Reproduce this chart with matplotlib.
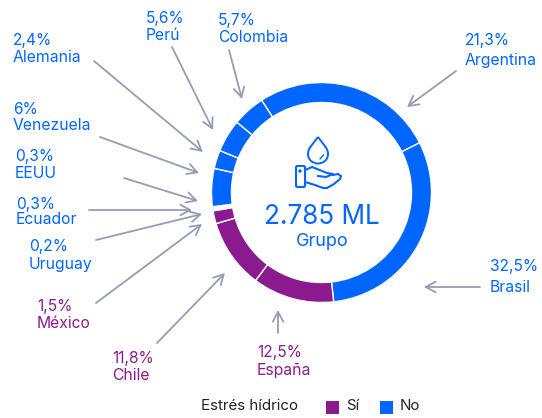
import matplotlib
matplotlib.use('Agg')
import matplotlib.pyplot as plt
from matplotlib.patches import PathPatch, FancyBboxPatch, Circle, Rectangle
from matplotlib.path import Path

# --- DATA ---
countries = ['Argentina', 'Brasil', 'España', 'Chile', 'México', 'Uruguay',
             'Ecuador', 'EEUU', 'Venezuela', 'Alemania', 'Perú', 'Colombia']
pct_labels = ['21,3%', '32,5%', '12,5%', '11,8%', '1,5%', '0,2%',
              '0,3%', '0,3%', '6%', '2,4%', '5,6%', '5,7%']
# arc sizes as drawn in the picture (they don't quite follow the printed labels)
arc_shares = [26.7, 30.7, 12.0, 10.2, 1.9, 0.2, 0.2, 0.2, 5.6, 2.7, 4.8, 4.8]
stress = ['No', 'No', 'Sí', 'Sí', 'Sí', 'No', 'No', 'No', 'No', 'No', 'No', 'No']
total_label = '2.785 ML'
total_sub = 'Grupo'
legend_title = 'Estrés hídrico'
legend_items = ['Sí', 'No']

# --- LAYOUT (pixels, y from the top) ---
W, H = 542, 418
BLUE = '#0066FF'
PURPLE = '#8A1A8E'
GREY = '#959DB3'
FONT = 'Inter'
colors = {'Sí': PURPLE, 'No': BLUE}

# left x, y of percent, y of name
label_pos = {
    'Argentina': (465, 40, 61), 'Brasil': (490, 266, 288), 'España': (257, 352, 370),
    'Chile': (112, 359, 375), 'México': (37, 307, 323), 'Uruguay': (29, 247, 264),
    'Ecuador': (16, 204, 220), 'EEUU': (15, 157, 174), 'Venezuela': (13, 109, 125),
    'Alemania': (13, 40, 58), 'Perú': (146, 18, 36), 'Colombia': (218, 20, 37),
}
# tail, head
arrow_pos = {
    'Argentina': ((456, 71), (407, 107)), 'Brasil': ((480, 287), (424, 287)),
    'España': ((278, 333), (278, 310)), 'Chile': ((157, 343), (225, 273)),
    'México': ((96, 303), (202, 224)), 'Uruguay': ((96, 240), (202, 214)),
    'Ecuador': ((89, 210), (192, 210)), 'EEUU': ((124, 178), (198, 201)),
    'Venezuela': ((100, 137), (199, 173)), 'Alemania': ((94, 61), (203, 152)),
    'Perú': ((172, 47), (213, 130)), 'Colombia': ((229, 50), (242, 99)),
}


def fy(y):
    return H - y


fig = plt.figure(figsize=(W / 100, H / 100), dpi=100)
ax = fig.add_axes([0, 0, 1, 1])

ax.pie(arc_shares, colors=[colors[s] for s in stress], startangle=123, counterclock=False,
       center=(321.5, fy(192.5)), radius=110, frame=True,
       wedgeprops={'width': 20, 'edgecolor': 'white', 'linewidth': 1.0})
ax.set_xlim(0, W)
ax.set_ylim(0, H)
ax.set_aspect('equal')
ax.axis('off')

# country labels and arrows
for name, pct, s in zip(countries, pct_labels, stress):
    x, y1, y2 = label_pos[name]
    ax.text(x, fy(y1), pct, color=colors[s], fontsize=11.2, family=FONT, va='center', ha='left')
    ax.text(x, fy(y2), name, color=colors[s], fontsize=11.3, family=FONT, va='center', ha='left')
    tail, head = arrow_pos[name]
    ax.annotate('', xy=(head[0], fy(head[1])), xytext=(tail[0], fy(tail[1])),
                arrowprops=dict(arrowstyle='->,head_length=0.7,head_width=0.38', color=GREY,
                                lw=1.3, shrinkA=0, shrinkB=0))

# centre text
ax.text(322, fy(216.5), total_label, color=BLUE, fontsize=18.8, family=FONT, ha='center', va='center')
ax.text(322, fy(242), total_sub, color=BLUE, fontsize=13, family=FONT, ha='center', va='center')

# icon: drop
drop = Path([(318, fy(137)), (313, fy(144)), (308, fy(148)), (308, fy(154)),
             (308, fy(160)), (313, fy(163.5)), (318, fy(163.5)),
             (323, fy(163.5)), (328, fy(160)), (328, fy(154)),
             (328, fy(148)), (323, fy(144)), (318, fy(137))],
            [Path.MOVETO] + [Path.CURVE4] * 12)
ax.add_patch(PathPatch(drop, fill=False, edgecolor=BLUE, lw=1.4))
ax.plot([320, 323.5], [fy(159), fy(155)], color=BLUE, lw=1.0, solid_capstyle='round')

# icon: cuff and hand
ax.add_patch(FancyBboxPatch((296, fy(187)), 9, 21, boxstyle='round,pad=0,rounding_size=1.5',
                            fill=False, edgecolor=BLUE, lw=1.5))
ax.add_patch(Circle((300, fy(171)), 1.0, color=BLUE))
hand_x = [305, 312, 317, 327, 333, 326, 318]
hand_y = [170, 167, 169, 173, 174, 177, 176]
palm_x = [305, 315, 323, 327, 334, 340, 341, 338, 333]
palm_y = [182, 185, 188, 188, 184, 179, 176, 174, 175]
ax.plot(hand_x, [fy(v) for v in hand_y], color=BLUE, lw=1.5, solid_joinstyle='round')
ax.plot(palm_x, [fy(v) for v in palm_y], color=BLUE, lw=1.5, solid_joinstyle='round')

# legend
ax.text(201, fy(406.5), legend_title, color='#222222', fontsize=10.9, family=FONT, va='center')
for name, sq_x, txt_x in zip(legend_items, [326, 380], [346, 400]):
    ax.add_patch(Rectangle((sq_x, fy(414)), 13, 13, color=colors[name], lw=0))
    ax.text(txt_x, fy(406.5), name, color='#222222', fontsize=10.9, family=FONT, va='center')

fig.savefig('out.png', dpi=100)
